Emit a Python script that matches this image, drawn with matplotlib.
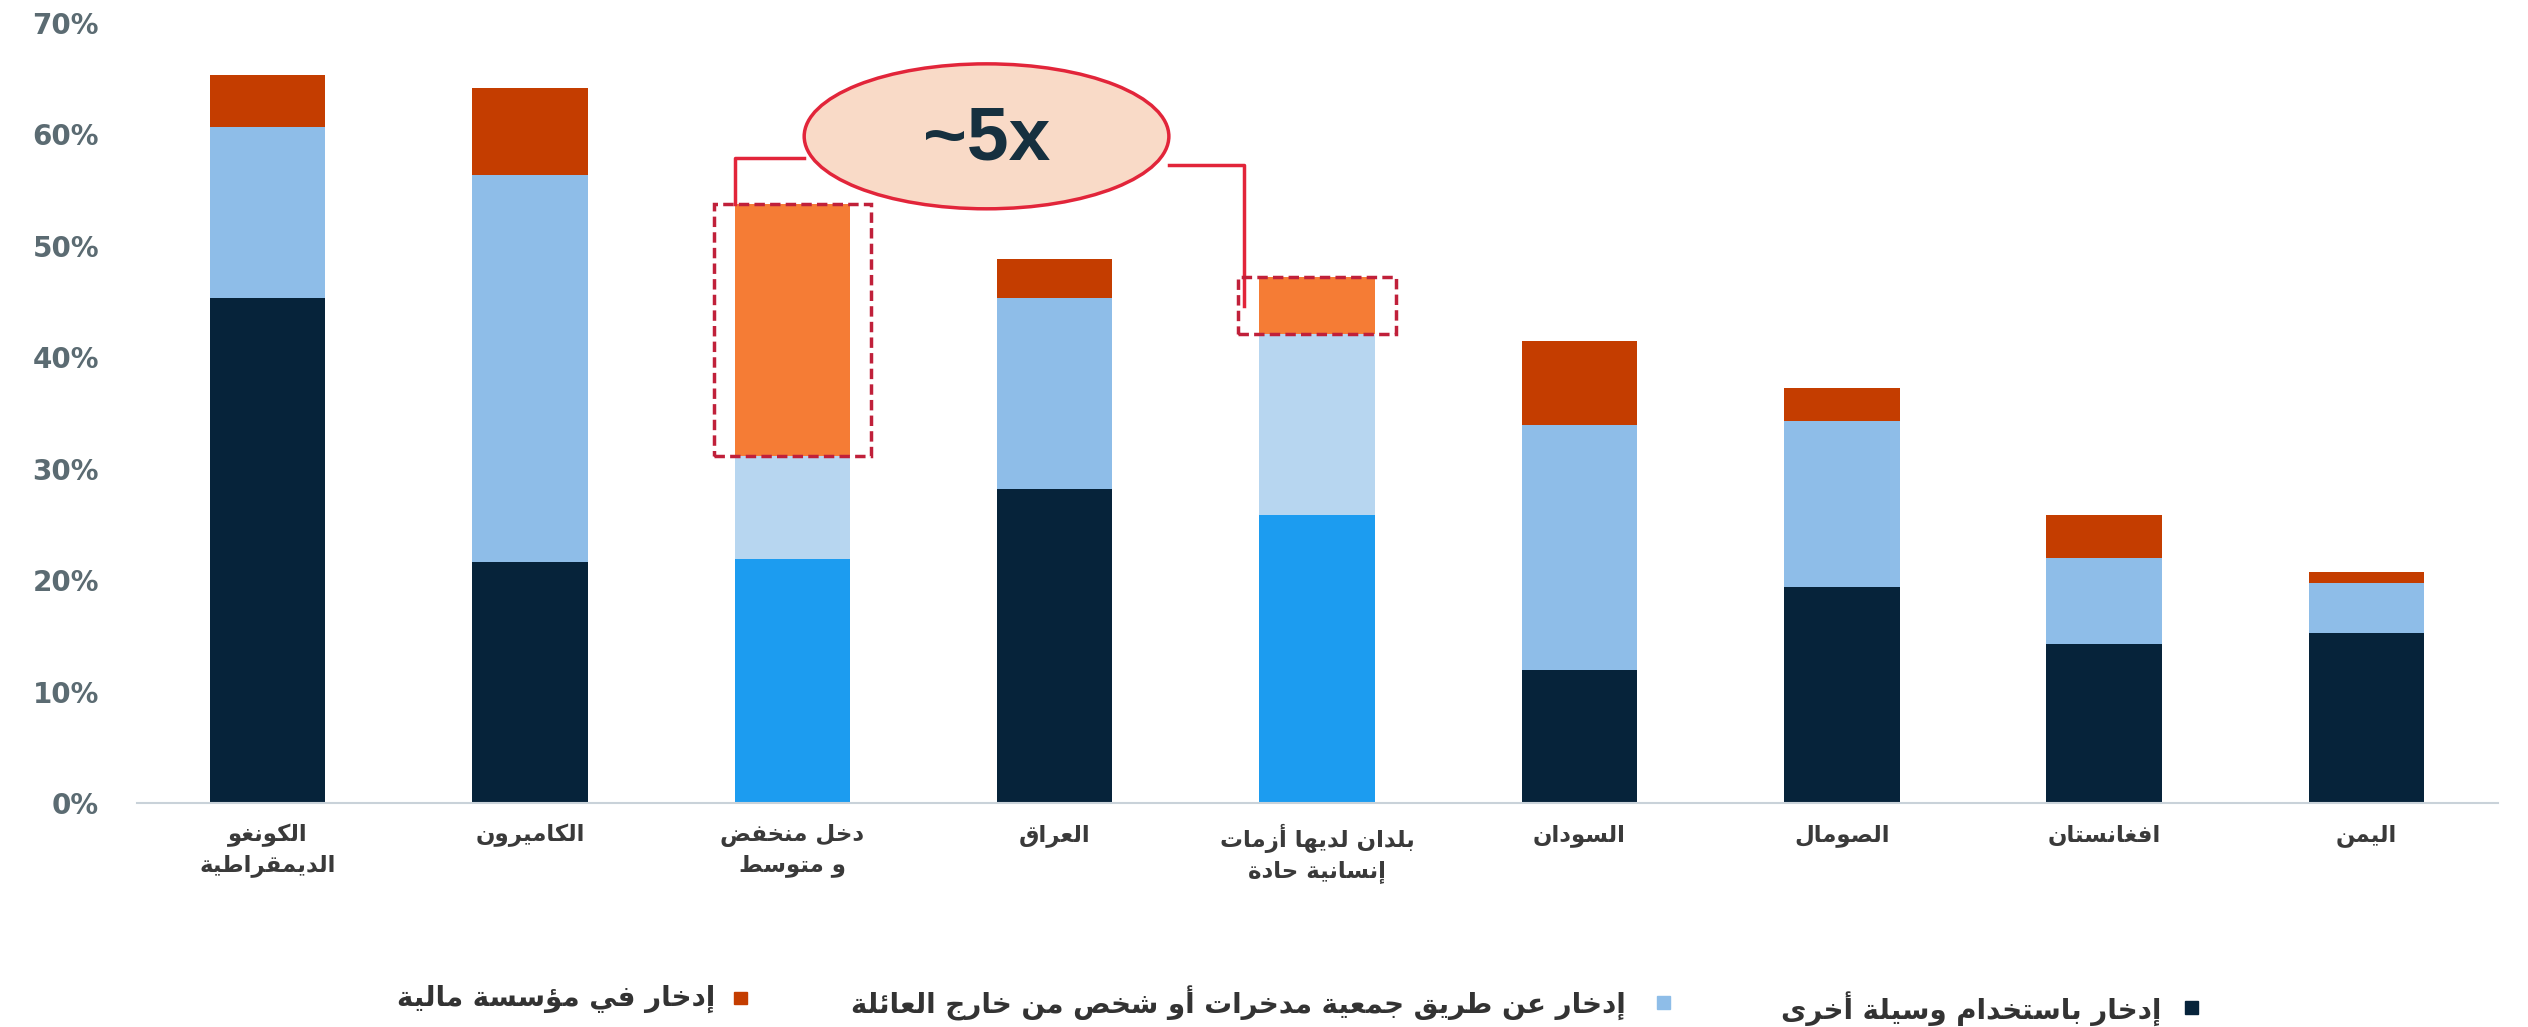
import matplotlib
matplotlib.use('Agg')
import numpy as np
import matplotlib.pyplot as plt
from matplotlib.patches import Ellipse, Rectangle

# --- data (percent of adults) ---
categories = [
    'الكونغو\nالديمقراطية',
    'الكاميرون',
    'دخل منخفض\nو متوسط',
    'العراق',
    'بلدان لديها أزمات\nإنسانية حادة',
    'السودان',
    'الصومال',
    'افغانستان',
    'اليمن',
]
other_method = [45.3, 21.6, 21.9, 28.2, 25.8, 11.9, 19.4, 14.3, 15.3]
savings_group = [15.3, 34.7, 9.2, 17.1, 16.3, 22.0, 14.9, 7.7, 4.4]
financial_inst = [4.7, 7.8, 22.6, 3.5, 5.1, 7.5, 2.9, 3.8, 1.0]
aggregate = [False, False, True, False, True, False, False, False, False]
highlight = [2, 4]
ratio_label = '~5x'

legend_labels = [
    'إدخار في مؤسسة مالية',
    'إدخار عن طريق جمعية مدخرات أو شخص من خارج العائلة',
    'إدخار باستخدام وسيلة أخرى',
]

yticks = [0, 10, 20, 30, 40, 50, 60, 70]

# --- minimal arabic shaping (matplotlib has no complex text layout) ---
FORMS = {
    'آ': 0xFE81, 'أ': 0xFE83, 'ؤ': 0xFE85, 'إ': 0xFE87, 'ئ': 0xFE89,
    'ا': 0xFE8D, 'ب': 0xFE8F, 'ة': 0xFE93, 'ت': 0xFE95, 'ث': 0xFE99,
    'ج': 0xFE9D, 'ح': 0xFEA1, 'خ': 0xFEA5, 'د': 0xFEA9, 'ذ': 0xFEAB,
    'ر': 0xFEAD, 'ز': 0xFEAF, 'س': 0xFEB1, 'ش': 0xFEB5, 'ص': 0xFEB9,
    'ض': 0xFEBD, 'ط': 0xFEC1, 'ظ': 0xFEC5, 'ع': 0xFEC9, 'غ': 0xFECD,
    'ف': 0xFED1, 'ق': 0xFED5, 'ك': 0xFED9, 'ل': 0xFEDD, 'م': 0xFEE1,
    'ن': 0xFEE5, 'ه': 0xFEE9, 'و': 0xFEED, 'ى': 0xFEEF, 'ي': 0xFEF1,
}
RIGHT_ONLY = set('آأؤإادذرزوةى')
LAM_ALEF = {'آ': 0xFEF5, 'أ': 0xFEF7, 'إ': 0xFEF9, 'ا': 0xFEFB}


def shape_line(s):
    out = []
    prev_joins = False
    i = 0
    while i < len(s):
        c = s[i]
        if c not in FORMS:
            out.append(c)
            prev_joins = False
            i += 1
            continue
        if c == 'ل' and i + 1 < len(s) and s[i + 1] in LAM_ALEF:
            out.append(chr(LAM_ALEF[s[i + 1]] + (1 if prev_joins else 0)))
            prev_joins = False
            i += 2
            continue
        nxt = s[i + 1] if i + 1 < len(s) else ''
        can_next = c not in RIGHT_ONLY and nxt in FORMS
        if prev_joins and can_next:
            form = 3
        elif prev_joins:
            form = 1
        elif can_next:
            form = 2
        else:
            form = 0
        out.append(chr(FORMS[c] + form))
        prev_joins = can_next
        i += 1
    return ''.join(out)[::-1]


def ar(s):
    return '\n'.join(shape_line(line) for line in s.split('\n'))


# --- colors ---
c_dark = '#06233a'
c_light = '#8ebde8'
c_top = '#c43d00'
c_agg_dark = '#1c9cf0'
c_agg_light = '#b7d6f0'
c_agg_top = '#f57c35'
c_red = '#e2253a'
c_box = '#c0203a'

plt.rcParams['font.family'] = ['DejaVu Sans']

fig = plt.figure(figsize=(25.28, 10.27), dpi=100)
ax = fig.add_axes([0.054, 0.218, 0.934, 0.760])

x = np.arange(len(categories))
width = 0.44
base = np.array(other_method)
mid = np.array(savings_group)
top = np.array(financial_inst)

col1 = [c_agg_dark if a else c_dark for a in aggregate]
col2 = [c_agg_light if a else c_light for a in aggregate]
col3 = [c_agg_top if a else c_top for a in aggregate]

ax.bar(x, base, width, color=col1, zorder=2)
ax.bar(x, mid, width, bottom=base, color=col2, zorder=2)
ax.bar(x, top, width, bottom=base + mid, color=col3, zorder=2)

ax.set_xlim(-0.5, len(categories) - 0.5)
ax.set_ylim(0, 70)
ax.set_yticks(yticks)
ax.set_yticklabels(['{0}%'.format(v) for v in yticks], fontsize=20,
                   fontweight='bold', color='#5b6b72')
ax.set_xticks(x)
ax.set_xticklabels([ar(c) for c in categories], fontsize=16.5,
                   fontweight='bold', color='#3a3a3a', linespacing=1.35)
ax.tick_params(axis='y', length=0, pad=27)
ax.tick_params(axis='x', length=0, pad=15)
for s in ['top', 'right', 'left']:
    ax.spines[s].set_visible(False)
ax.spines['bottom'].set_color('#c9d2d9')
ax.spines['bottom'].set_linewidth(1.5)

# --- highlight boxes around the financial institution segments ---
pad_x = 0.08
for i in highlight:
    y0 = base[i] + mid[i]
    ax.add_patch(Rectangle((x[i] - width / 2 - pad_x, y0),
                           width + 2 * pad_x, top[i],
                           fill=False, edgecolor=c_box, linewidth=2.5,
                           linestyle=(0, (3, 1.5)), zorder=4, clip_on=False))

# --- ratio bubble ---
i0, i1 = highlight
ex, ey = 2.74, 59.8
ew, eh = 1.39, 13.0
ax.add_patch(Ellipse((ex, ey), ew, eh, facecolor='#f9dac7',
                     edgecolor=c_red, linewidth=2.5, zorder=5, clip_on=False))
ax.text(ex, ey - 0.3, ratio_label, ha='center', va='center', fontsize=54,
        fontweight='bold', family='Liberation Sans', color='#16303f', zorder=6)

lx = x[i0] - width / 2
ly = 57.9
ax.plot([ex - ew / 2, lx, lx], [ly, ly, base[i0] + mid[i0] + top[i0]],
        color=c_red, linewidth=2.5, zorder=3, clip_on=False)
rx = x[i1] - width / 2 - pad_x + 0.02
ry = 57.2
ax.plot([ex + ew / 2, rx, rx], [ry, ry, base[i1] + mid[i1] + top[i1] - 2.6],
        color=c_red, linewidth=2.5, zorder=3, clip_on=False)

# --- legend (right-to-left) ---
leg_colors = [c_top, c_light, c_dark]
marker_x = [0.293, 0.658, 0.867]
text_x = [0.283, 0.643, 0.855]
leg_y = [0.027, 0.023, 0.018]
for lab, col, mx, tx, yy in zip(legend_labels, leg_colors, marker_x, text_x,
                                leg_y):
    fig.add_artist(Rectangle((mx - 0.0025, yy - 0.005), 0.005, 0.0125,
                             transform=fig.transFigure, color=col))
    fig.text(tx, yy, ar(lab), ha='right', va='center', fontsize=20,
             fontweight='bold', color='#333333')

plt.savefig('out.png', dpi=100)
